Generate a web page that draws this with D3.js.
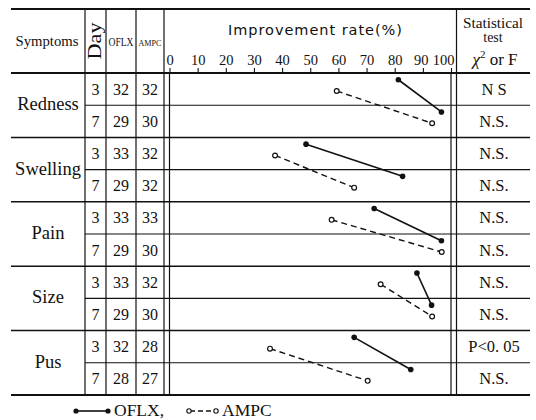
<!DOCTYPE html>
<html><head><meta charset="utf-8">
<script src="https://cdn.jsdelivr.net/npm/d3@7"></script>
<style>
html,body{margin:0;padding:0;background:#fff;}
svg{display:block;}
svg text{font-family:"Liberation Serif","DejaVu Serif",serif;fill:#111;}
svg text.sans{font-family:"DejaVu Sans",sans-serif;}
</style></head>
<body>
<svg id="c" width="536" height="420"></svg>
<script>
// ---- data ----
const symptoms = ["Redness", "Swelling", "Pain", "Size", "Pus"];
const days = [3, 7];
const oflxN = [32, 29, 33, 29, 33, 29, 33, 29, 32, 28];
const ampcN = [32, 30, 32, 32, 33, 30, 32, 30, 28, 27];
const oflxRate = [81.3, 96.6, 48.5, 82.8, 72.7, 96.6, 87.9, 93.1, 65.6, 85.7];
const ampcRate = [59.4, 93.3, 37.5, 65.6, 57.6, 96.7, 75.0, 93.3, 35.7, 70.4];
const statTest = ["N S", "N.S.", "N.S.", "N.S.", "N.S.", "N.S.", "N.S.", "N.S.", "P<0. 05", "N.S."];
const tickValues = [0, 10, 20, 30, 40, 50, 60, 70, 80, 90, 100];

// ---- layout ----
const svg = d3.select("#c");
const L = 11, R = 530, TOP = 9, HB = 73, BOT = 395;
const colSym = 85, colDay = 106, colO = 136, colA = 164, colStat = 456.5;
const x = d3.scaleLinear().domain([0, 100]).range([169.5, 451]);
const rowIdx = d3.range(symptoms.length * days.length);
const y = d3.scaleBand().domain(rowIdx).range([HB, BOT]);
const bw = y.bandwidth();
const ink = "#111";

const rows = rowIdx.map(i => ({
  i, sym: Math.floor(i / 2), day: days[i % 2],
  on: oflxN[i], an: ampcN[i], or: oflxRate[i], ar: ampcRate[i], st: statTest[i]
}));

const g = svg.append("g");

// horizontal lines
[[TOP, 2], [HB, 2], [BOT, 2]].forEach(([yy, w]) => {
  g.append("line").attr("x1", L).attr("x2", R).attr("y1", yy).attr("y2", yy)
    .attr("stroke", ink).attr("stroke-width", w);
});
rowIdx.slice(1).forEach(i => {
  const group = i % 2 === 0;
  g.append("line").attr("x1", group ? L : colSym).attr("x2", R)
    .attr("y1", y(i)).attr("y2", y(i))
    .attr("stroke", ink).attr("stroke-width", group ? 1.5 : 1.1);
});

// vertical lines
[colSym, colDay, colO, colA, colStat].forEach(xx => {
  g.append("line").attr("x1", xx).attr("x2", xx).attr("y1", TOP).attr("y2", BOT)
    .attr("stroke", ink).attr("stroke-width", 1.2);
});
[0, 100].forEach(v => {
  g.append("line").attr("x1", x(v)).attr("x2", x(v)).attr("y1", HB).attr("y2", BOT)
    .attr("stroke", ink).attr("stroke-width", 1.2);
});

// header texts
g.append("text").attr("x", 47).attr("y", 46).attr("text-anchor", "middle")
  .attr("font-size", 14.5).attr("textLength", 63).attr("lengthAdjust", "spacingAndGlyphs").text("Symptoms");
g.append("text").attr("transform", "translate(101,41) rotate(-90)")
  .attr("text-anchor", "middle").attr("font-size", 18)
  .attr("textLength", 37).attr("lengthAdjust", "spacingAndGlyphs").text("Day");
g.append("text").attr("x", 121).attr("y", 46).attr("text-anchor", "middle")
  .attr("font-size", 12).attr("textLength", 25).attr("lengthAdjust", "spacingAndGlyphs").text("OFLX");
g.append("text").attr("x", 150).attr("y", 46).attr("text-anchor", "middle")
  .attr("font-size", 9).attr("textLength", 23).attr("lengthAdjust", "spacingAndGlyphs").text("AMPC");
g.append("text").attr("class", "sans").attr("x", 315).attr("y", 35).attr("text-anchor", "middle")
  .attr("font-size", 14.5)
  .attr("textLength", 174).attr("lengthAdjust", "spacing").text("Improvement rate(%)");
g.append("text").attr("x", 493).attr("y", 28).attr("text-anchor", "middle")
  .attr("font-size", 15.5).attr("textLength", 60).attr("lengthAdjust", "spacingAndGlyphs").text("Statistical");
g.append("text").attr("x", 493).attr("y", 42).attr("text-anchor", "middle")
  .attr("font-size", 14).text("test");
const chi = g.append("text").attr("x", 495).attr("y", 65).attr("text-anchor", "middle")
  .attr("font-size", 17);
chi.append("tspan").attr("font-style", "italic").text("χ");
chi.append("tspan").attr("font-size", 11).attr("dy", -7).text("2");
chi.append("tspan").attr("dy", 7).text(" or F");

// axis
const ax = g.append("g").attr("transform", `translate(0,${HB})`)
  .call(d3.axisTop(x).tickValues(tickValues).tickSize(5).tickPadding(3).tickFormat(d3.format("d")));
ax.attr("font-family", null).attr("font-size", null);
ax.select(".domain").remove();
ax.selectAll(".tick line").attr("stroke", ink).attr("stroke-width", 1.1);
ax.selectAll(".tick text").attr("fill", ink).attr("font-size", 14.5)
  .attr("dx", d => d === 100 ? -8 : (d === 90 ? -2 : 0));

// symptom names
symptoms.forEach((s, k) => {
  g.append("text").attr("x", 48).attr("y", y(2 * k + 1) + 5).attr("text-anchor", "middle")
    .attr("font-size", 18.5).text(s);
});

// cell numbers
const cells = g.selectAll(".cell").data(rows).join("g").attr("class", "cell");
cells.append("text").attr("x", (colSym + colDay) / 2).attr("y", d => y(d.i) + bw / 2 + 5.5)
  .attr("text-anchor", "middle").attr("font-size", 16).text(d => d.day);
cells.append("text").attr("x", (colDay + colO) / 2).attr("y", d => y(d.i) + bw / 2 + 5.5)
  .attr("text-anchor", "middle").attr("font-size", 16).text(d => d.on);
cells.append("text").attr("x", (colO + colA) / 2).attr("y", d => y(d.i) + bw / 2 + 5.5)
  .attr("text-anchor", "middle").attr("font-size", 16).text(d => d.an);
cells.append("text").attr("x", 494).attr("y", d => y(d.i) + bw / 2 + 5.5)
  .attr("text-anchor", "middle").attr("font-size", 16.5).text(d => d.st);

// data marks: per symptom, day3 -> day7
const oY = i => y(i) + bw * 0.21;
const aY = i => y(i) + bw * 0.56;
symptoms.forEach((s, k) => {
  const i3 = 2 * k, i7 = 2 * k + 1;
  g.append("line").attr("x1", x(ampcRate[i3])).attr("y1", aY(i3))
    .attr("x2", x(ampcRate[i7])).attr("y2", aY(i7))
    .attr("stroke", ink).attr("stroke-width", 1.4).attr("stroke-dasharray", "6,4");
  g.append("line").attr("x1", x(oflxRate[i3])).attr("y1", oY(i3))
    .attr("x2", x(oflxRate[i7])).attr("y2", oY(i7))
    .attr("stroke", ink).attr("stroke-width", 1.6);
  [i3, i7].forEach(i => {
    g.append("circle").attr("cx", x(ampcRate[i])).attr("cy", aY(i)).attr("r", 2.4)
      .attr("fill", "#fff").attr("stroke", ink).attr("stroke-width", 1.2);
    g.append("circle").attr("cx", x(oflxRate[i])).attr("cy", oY(i)).attr("r", 2.8)
      .attr("fill", ink);
  });
});

// legend
const ly = 411;
g.append("line").attr("x1", 76).attr("x2", 108).attr("y1", ly).attr("y2", ly)
  .attr("stroke", ink).attr("stroke-width", 1.6);
[76, 108].forEach(cx => g.append("circle").attr("cx", cx).attr("cy", ly).attr("r", 2.6).attr("fill", ink));
g.append("text").attr("x", 114).attr("y", 416).attr("font-size", 17.5).text("OFLX,");
g.append("line").attr("x1", 190).attr("x2", 215).attr("y1", ly).attr("y2", ly)
  .attr("stroke", ink).attr("stroke-width", 1.3).attr("stroke-dasharray", "5,3");
[189, 216].forEach(cx => g.append("circle").attr("cx", cx).attr("cy", ly).attr("r", 2.2)
  .attr("fill", "#fff").attr("stroke", ink).attr("stroke-width", 1.1));
g.append("text").attr("x", 222).attr("y", 416).attr("font-size", 17.5).text("AMPC");
</script>
</body></html>
